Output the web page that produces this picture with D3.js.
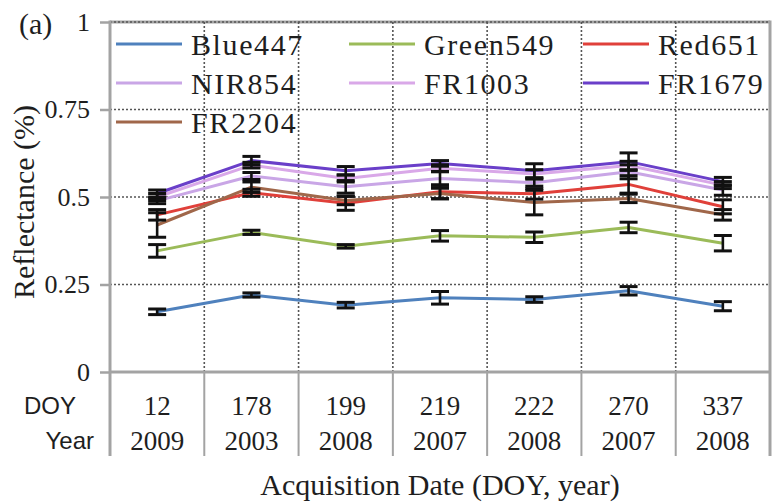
<!DOCTYPE html>
<html>
<head>
<meta charset="utf-8">
<script src="https://cdn.jsdelivr.net/npm/d3@7"></script>
<style>
  html, body { margin: 0; padding: 0; background: #fff; }
  svg { display: block; }
</style>
</head>
<body>
<svg id="chart" width="775" height="503"></svg>
<script>
// Acquisition dates (day of year and year)
const doyLabels = ["12", "178", "199", "219", "222", "270", "337"];
const yearLabels = ["2009", "2003", "2008", "2007", "2008", "2007", "2008"];

// Band names in legend order
const bandNames = ["Blue447", "Green549", "Red651", "NIR854", "FR1003", "FR1679", "FR2204"];
const bandColors = ["#4f81bd", "#9bbb59", "#e0403a", "#c9a6e6", "#d9a8e8", "#6a3fc9", "#a0674a"];

// Mean reflectance per band, one value per acquisition date
const blue447  = [0.172, 0.220, 0.191, 0.212, 0.207, 0.232, 0.188];
const green549 = [0.346, 0.399, 0.359, 0.389, 0.385, 0.413, 0.368];
const red651   = [0.449, 0.512, 0.482, 0.515, 0.509, 0.536, 0.472];
const nir854   = [0.489, 0.560, 0.529, 0.553, 0.541, 0.572, 0.520];
const fr1003   = [0.500, 0.591, 0.553, 0.582, 0.566, 0.590, 0.534];
const fr1679   = [0.510, 0.604, 0.575, 0.596, 0.575, 0.601, 0.544];
const fr2204   = [0.420, 0.528, 0.490, 0.510, 0.484, 0.496, 0.449];

// Standard deviation per band and date
const blue447Err  = [0.008, 0.006, 0.008, 0.018, 0.008, 0.012, 0.013];
const green549Err = [0.018, 0.006, 0.005, 0.015, 0.015, 0.015, 0.022];
const red651Err   = [0.015, 0.010, 0.020, 0.020, 0.015, 0.025, 0.020];
const nir854Err   = [0.008, 0.010, 0.018, 0.020, 0.010, 0.020, 0.015];
const fr1003Err   = [0.010, 0.008, 0.010, 0.010, 0.012, 0.012, 0.010];
const fr1679Err   = [0.010, 0.012, 0.012, 0.008, 0.020, 0.025, 0.012];
const fr2204Err   = [0.035, 0.015, 0.012, 0.015, 0.035, 0.012, 0.015];

const yTicks = [0, 0.25, 0.5, 0.75, 1];

const seriesValues = [blue447, green549, red651, nir854, fr1003, fr1679, fr2204];
const seriesErrors = [blue447Err, green549Err, red651Err, nir854Err, fr1003Err, fr1679Err, fr2204Err];
const series = bandNames.map((name, i) => ({
  name, color: bandColors[i],
  points: seriesValues[i].map((v, j) => ({ key: doyLabels[j], v, e: seriesErrors[i][j] }))
}));

const svg = d3.select("#chart");
const plotLeft = 110, plotRight = 770, plotTop = 22, plotBottom = 372, tableBottom = 456;
const serif = "'Liberation Serif', 'Times New Roman', serif";
const sans = "'Liberation Sans', Arial, sans-serif";
const frameColor = "#a3a3a3";
const gridColor = "#555";
const textColor = "#1e1e1e";

const x = d3.scaleBand().domain(doyLabels).range([plotLeft, plotRight]).padding(0);
const y = d3.scaleLinear().domain([0, 1]).range([plotBottom, plotTop]);

// Top frame line, then horizontal dotted grid
svg.append("line").attr("x1", plotLeft).attr("x2", plotRight)
  .attr("y1", y(1)).attr("y2", y(1))
  .attr("stroke", frameColor).attr("stroke-width", 3);
svg.append("g").selectAll("line").data(yTicks.filter(t => t > 0)).join("line")
  .attr("x1", plotLeft).attr("x2", plotRight)
  .attr("y1", d => y(d)).attr("y2", d => y(d))
  .attr("stroke", gridColor).attr("stroke-width", 1.6).attr("stroke-dasharray", "2,2");

// Vertical dotted grid at date boundaries
const innerEdges = doyLabels.slice(1).map(d => x(d));
svg.append("g").selectAll("line").data(innerEdges).join("line")
  .attr("x1", d => d).attr("x2", d => d)
  .attr("y1", plotTop).attr("y2", plotBottom)
  .attr("stroke", gridColor).attr("stroke-width", 1.6).attr("stroke-dasharray", "2,2");

// Frame: right side and bottom axis
svg.append("line").attr("x1", plotRight).attr("x2", plotRight).attr("y1", plotTop - 1.5).attr("y2", tableBottom)
  .attr("stroke", frameColor).attr("stroke-width", 3);
svg.append("line").attr("x1", plotLeft).attr("x2", plotRight).attr("y1", plotBottom).attr("y2", plotBottom)
  .attr("stroke", frameColor).attr("stroke-width", 3);

// Table separators under the axis
svg.append("g").selectAll("line").data(innerEdges).join("line")
  .attr("x1", d => d).attr("x2", d => d)
  .attr("y1", plotBottom).attr("y2", tableBottom)
  .attr("stroke", frameColor).attr("stroke-width", 2);

// Y axis
const yAxis = d3.axisLeft(y).tickValues(yTicks).tickSize(10).tickPadding(10)
  .tickFormat(d => String(d));
const gy = svg.append("g").attr("transform", `translate(${plotLeft},0)`).call(yAxis);
gy.select(".domain").remove();
gy.selectAll(".tick line").attr("stroke", frameColor).attr("stroke-width", 2.5);
gy.selectAll(".tick text").attr("font-family", serif).attr("font-size", 26)
  .attr("fill", textColor).attr("dy", "0.32em");
svg.append("line").attr("x1", plotLeft).attr("x2", plotLeft).attr("y1", plotTop - 1.5).attr("y2", tableBottom)
  .attr("stroke", frameColor).attr("stroke-width", 3);

// Series lines
const line = d3.line().x(d => x(d.key) + x.bandwidth() / 2).y(d => y(d.v));
svg.append("g").selectAll("path").data(series).join("path")
  .attr("d", d => line(d.points))
  .attr("fill", "none").attr("stroke", d => d.color).attr("stroke-width", 3)
  .attr("stroke-linejoin", "round");

// Error bars
const capHalf = 9;
const eb = svg.append("g").attr("stroke", "#111").attr("stroke-width", 2.6);
series.forEach(s => {
  s.points.forEach(p => {
    const cx = x(p.key) + x.bandwidth() / 2;
    eb.append("line").attr("x1", cx).attr("x2", cx).attr("y1", y(p.v - p.e)).attr("y2", y(p.v + p.e));
    eb.append("line").attr("x1", cx - capHalf).attr("x2", cx + capHalf).attr("y1", y(p.v + p.e)).attr("y2", y(p.v + p.e)).attr("stroke-width", 3);
    eb.append("line").attr("x1", cx - capHalf).attr("x2", cx + capHalf).attr("y1", y(p.v - p.e)).attr("y2", y(p.v - p.e)).attr("stroke-width", 3);
  });
});

// Legend, three columns
const colX = [116, 349, 583];
const rowY = [44, 83, 122];
const lg = svg.append("g");
series.forEach((s, i) => {
  const cx = colX[i % 3], cy = rowY[Math.floor(i / 3)];
  lg.append("line").attr("x1", cx).attr("x2", cx + 66).attr("y1", cy).attr("y2", cy)
    .attr("stroke", s.color).attr("stroke-width", 3);
  lg.append("text").attr("x", cx + 75).attr("y", cy).attr("dy", "0.35em")
    .attr("font-family", serif).attr("font-size", 30).attr("letter-spacing", 1.6)
    .attr("fill", textColor).text(s.name);
});

// Table text: DOY and year rows
const rowDoy = 406, rowYear = 441;
svg.append("g").selectAll("text").data(doyLabels).join("text")
  .attr("x", d => x(d) + x.bandwidth() / 2).attr("y", rowDoy).attr("dy", "0.35em")
  .attr("text-anchor", "middle").attr("font-family", serif).attr("font-size", 27).attr("fill", textColor)
  .text(d => d);
svg.append("g").selectAll("text").data(yearLabels).join("text")
  .attr("x", (d, i) => x(doyLabels[i]) + x.bandwidth() / 2).attr("y", rowYear).attr("dy", "0.35em")
  .attr("text-anchor", "middle").attr("font-family", serif).attr("font-size", 27).attr("fill", textColor)
  .text(d => d);
svg.append("text").attr("x", 76).attr("y", rowDoy).attr("dy", "0.35em").attr("text-anchor", "end")
  .attr("font-family", sans).attr("font-size", 24).attr("fill", textColor).text("DOY");
svg.append("text").attr("x", 94).attr("y", rowYear).attr("dy", "0.35em").attr("text-anchor", "end")
  .attr("font-family", sans).attr("font-size", 24).attr("fill", textColor).text("Year");

// Axis titles and panel label
svg.append("text").attr("x", 440).attr("y", 484).attr("dy", "0.35em").attr("text-anchor", "middle")
  .attr("font-family", serif).attr("font-size", 30).attr("fill", textColor)
  .text("Acquisition Date (DOY, year)");
svg.append("text").attr("transform", "translate(23,202) rotate(-90)").attr("dy", "0.35em")
  .attr("text-anchor", "middle").attr("font-family", serif).attr("font-size", 30).attr("fill", textColor)
  .text("Reflectance (%)");
svg.append("text").attr("x", 19).attr("y", 23).attr("dy", "0.35em")
  .attr("font-family", serif).attr("font-size", 30).attr("fill", textColor).text("(a)");
</script>
</body>
</html>
